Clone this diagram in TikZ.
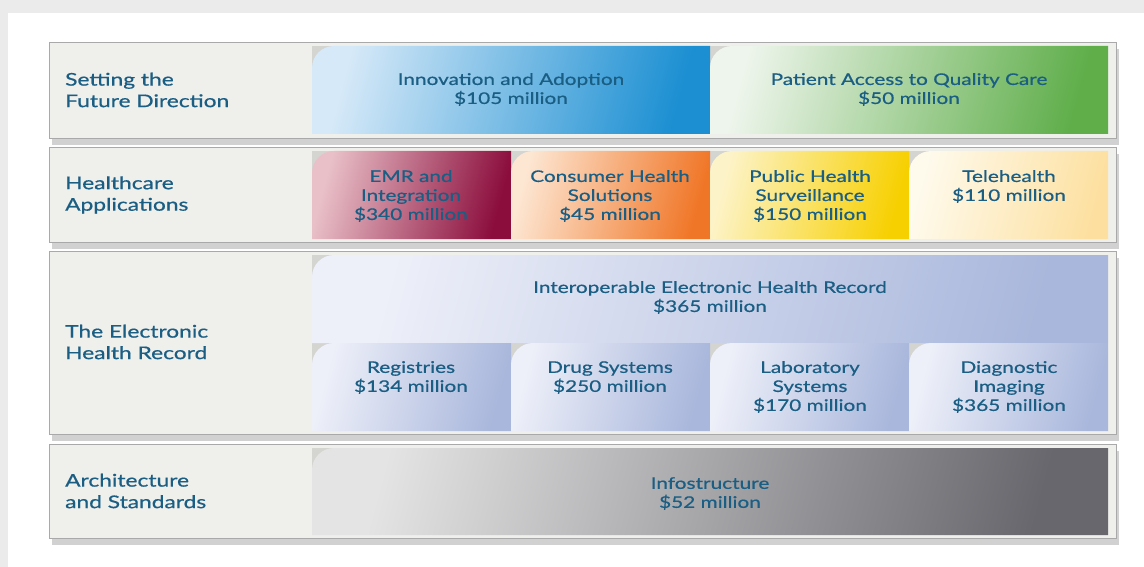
\documentclass[tikz,border=0pt]{standalone}
\usepackage{fontspec}
\setmainfont{Lato}[FakeStretch=1.3, FakeBold=0.6]
\usetikzlibrary{shadows}

\definecolor{inktxt}{HTML}{1B5E84}
\definecolor{framefill}{HTML}{EFEFEB}
\definecolor{frameline}{HTML}{A9A9A9}
\definecolor{notchgray}{HTML}{D4D4D0}
\definecolor{innovL}{HTML}{D6E9F8}
\definecolor{innovR}{HTML}{1B8FD2}
\definecolor{accessL}{HTML}{EEF5EC}
\definecolor{accessR}{HTML}{5FAE4A}
\definecolor{emrL}{HTML}{E9C0C8}
\definecolor{emrR}{HTML}{8B0D3C}
\definecolor{consL}{HTML}{FDE6D2}
\definecolor{consR}{HTML}{F07627}
\definecolor{pubL}{HTML}{FDF3C8}
\definecolor{pubR}{HTML}{F7D000}
\definecolor{teleL}{HTML}{FEFAEC}
\definecolor{teleR}{HTML}{FDE0A0}
\definecolor{ehrL}{HTML}{EEF0F9}
\definecolor{ehrR}{HTML}{A9B7DC}
\definecolor{infoL}{HTML}{E4E4E4}
\definecolor{infoR}{HTML}{67676D}

\begin{document}
\begin{tikzpicture}[
    x=1pt, y=-1pt,
    rowframe/.style={fill=framefill, draw=frameline, line width=0.8pt,
        drop shadow={shadow xshift=3pt, shadow yshift=-7pt, fill=black!45, opacity=0.4}},
    rowlabel/.style={anchor=west, align=left, text=inktxt, inner sep=0pt,
        font=\fontsize{17.5}{21.5}\selectfont},
    celltext/.style={align=center, text=inktxt, inner sep=0pt,
        font=\fontsize{16}{19}\selectfont},
    notch/.style={fill=notchgray},
    innov/.style={left color=innovL, right color=innovR, shading angle=75},
    access/.style={left color=accessL, right color=accessR, shading angle=75},
    emr/.style={left color=emrL, right color=emrR, shading angle=75},
    consumer/.style={left color=consL, right color=consR, shading angle=75},
    public/.style={left color=pubL, right color=pubR, shading angle=75},
    tele/.style={left color=teleL, right color=teleR, shading angle=75},
    ehr/.style={left color=ehrL, right color=ehrR, shading angle=75},
    infra/.style={left color=infoL, right color=infoR, shading angle=75}
]
\useasboundingbox (0,0) rectangle (1144,567);
\fill[black!8] (0,0) rectangle (1144,567);
\fill[white] (8,13) rectangle (1144,567);

% row frames
\fill[rowframe] (49,42) rectangle (1116,138);
\fill[rowframe] (49,147) rectangle (1116,242);
\fill[rowframe] (49,251) rectangle (1116,434);
\fill[rowframe] (49,444) rectangle (1116,538);

% row 1
\fill[notch] (312,46) rectangle (1108,134);
\shade[innov] (312,134) [rounded corners=22pt] -- (312,46) [sharp corners] -- (710,46) -- (710,134) -- cycle;
\shade[access] (710,134) [rounded corners=22pt] -- (710,46) [sharp corners] -- (1108,46) -- (1108,134) -- cycle;

% row 2
\fill[notch] (312,151) rectangle (1108,239);
\shade[emr] (312,239) [rounded corners=22pt] -- (312,151) [sharp corners] -- (511,151) -- (511,239) -- cycle;
\shade[consumer] (511,239) [rounded corners=22pt] -- (511,151) [sharp corners] -- (710,151) -- (710,239) -- cycle;
\shade[public] (710,239) [rounded corners=22pt] -- (710,151) [sharp corners] -- (909,151) -- (909,239) -- cycle;
\shade[tele] (909,239) [rounded corners=22pt] -- (909,151) [sharp corners] -- (1108,151) -- (1108,239) -- cycle;

% row 3
\fill[notch] (312,255) rectangle (1108,431);
\shade[ehr] (312,343) [rounded corners=22pt] -- (312,255) [sharp corners] -- (1108,255) -- (1108,343) -- cycle;
\shade[ehr] (312,431) [rounded corners=22pt] -- (312,343) [sharp corners] -- (511,343) -- (511,431) -- cycle;
\shade[ehr] (511,431) [rounded corners=22pt] -- (511,343) [sharp corners] -- (710,343) -- (710,431) -- cycle;
\shade[ehr] (710,431) [rounded corners=22pt] -- (710,343) [sharp corners] -- (909,343) -- (909,431) -- cycle;
\shade[ehr] (909,431) [rounded corners=22pt] -- (909,343) [sharp corners] -- (1108,343) -- (1108,431) -- cycle;

% row 4
\fill[notch] (312,448) rectangle (1108,535);
\shade[infra] (312,535) [rounded corners=22pt] -- (312,448) [sharp corners] -- (1108,448) -- (1108,535) -- cycle;

% labels
\node[rowlabel] (future) at (65,90) {Setting the\\Future Direction};
\node[rowlabel] (apps) at (65,195) {Healthcare\\Applications};
\node[rowlabel] (record) at (65,342) {The Electronic\\Health Record};
\node[rowlabel] (standards) at (65,491) {Architecture\\and Standards};

\node[celltext] (innovation) at (511,89.5) {Innovation and Adoption\\\$105 million};
\node[celltext] (patient) at (909,89.5) {Patient Access to Quality Care\\\$50 million};
\node[celltext] (emrint) at (411,196) {EMR and\\Integration\\\$340 million};
\node[celltext] (consumers) at (610,196) {Consumer Health\\Solutions\\\$45 million};
\node[celltext] (surveil) at (810,196) {Public Health\\Surveillance\\\$150 million};
\node[celltext] (telehealth) at (1009,186.5) {Telehealth\\\$110 million};
\node[celltext] (iehr) at (710,297.5) {Interoperable Electronic Health Record\\\$365 million};
\node[celltext] (registries) at (411,377.5) {Registries\\\$134 million};
\node[celltext] (drugs) at (610,377.5) {Drug Systems\\\$250 million};
\node[celltext] (lab) at (810,387) {Laboratory\\Systems\\\$170 million};
\node[celltext] (imaging) at (1009,387) {Diagnostic\\Imaging\\\$365 million};
\node[celltext] (infostructure) at (710,493.5) {Infostructure\\\$52 million};
\end{tikzpicture}
\end{document}
